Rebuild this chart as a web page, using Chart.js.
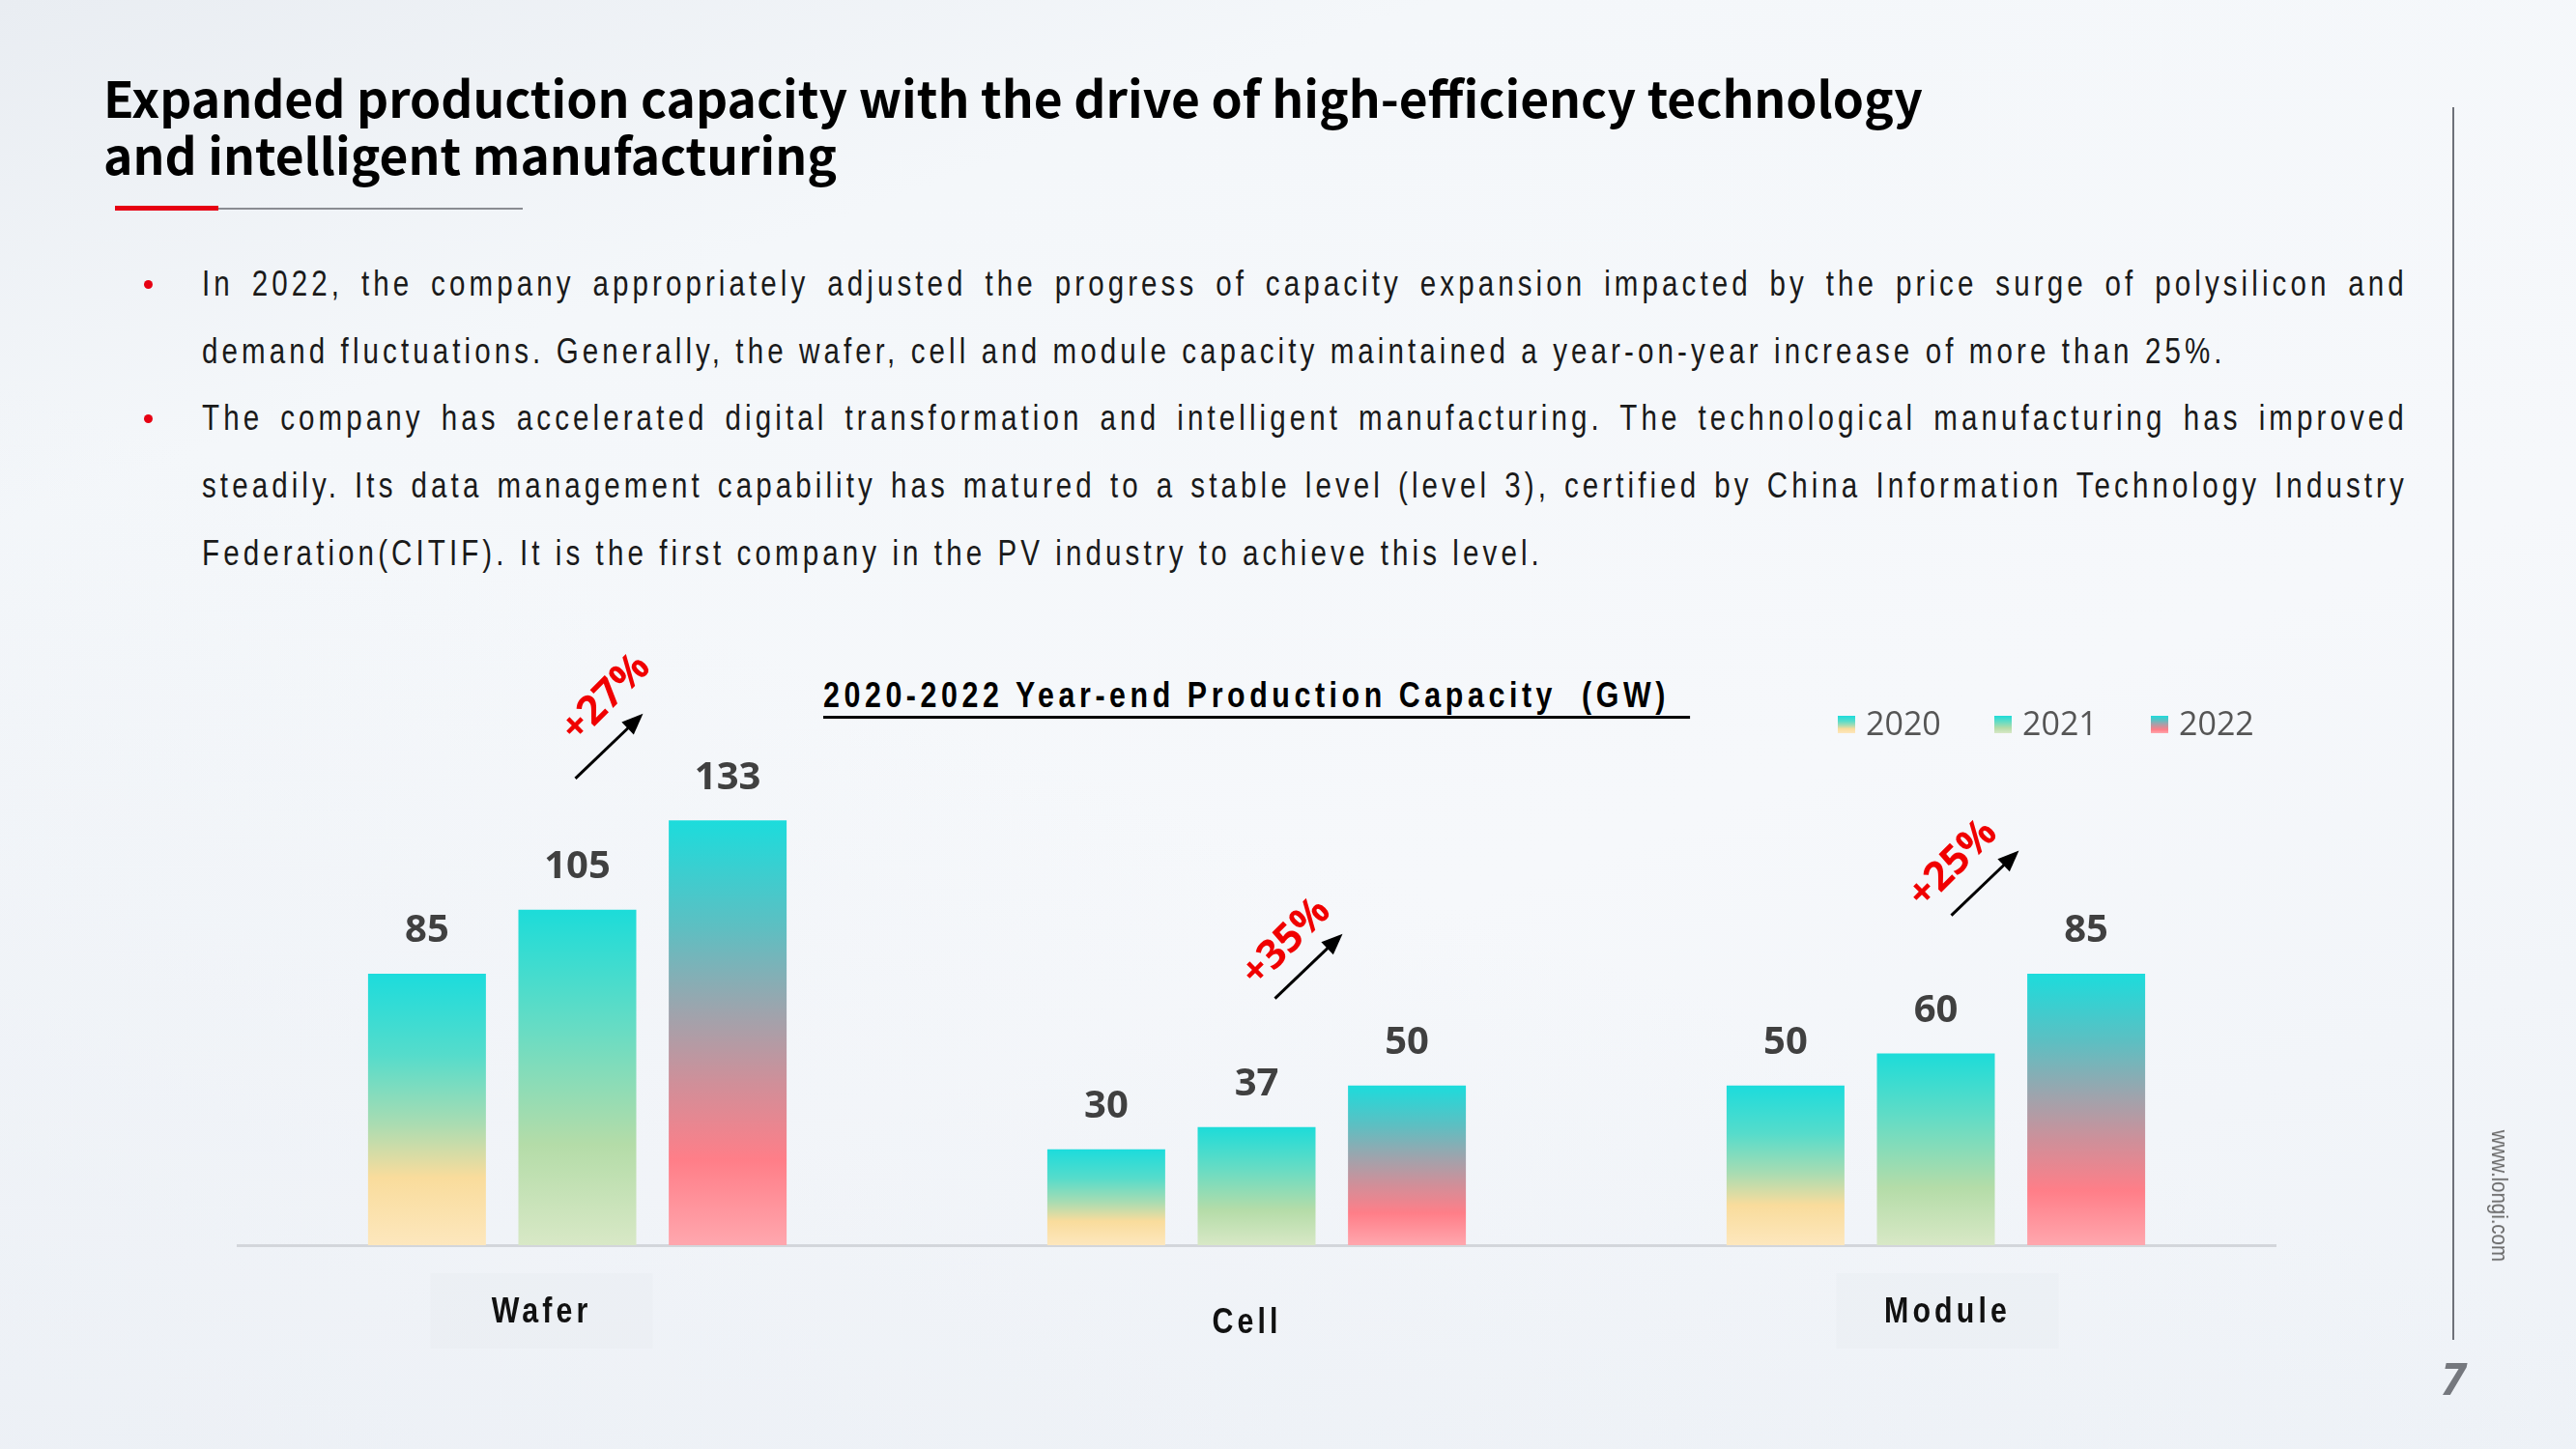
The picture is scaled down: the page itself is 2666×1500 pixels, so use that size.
<!DOCTYPE html>
<html>
<head>
<meta charset="utf-8">
<script src="https://cdn.jsdelivr.net/npm/chart.js@4.4.1/dist/chart.umd.min.js"></script>
<style>
  html, body { margin: 0; padding: 0; }
  body {
    width: 2666px; height: 1500px; overflow: hidden; position: relative;
    background:
      linear-gradient(200deg, rgba(255,255,255,0) 55%, rgba(230,235,242,0.6) 100%),
      linear-gradient(160deg, #e9edf2 0%, #f4f7fa 22%, #f6f8fb 60%, #eef2f7 100%);
    font-family: "Liberation Sans", Arial, sans-serif;
  }
  .title {
    position: absolute; left: 107px; top: 70px;
    font-family: "Noto Sans CJK SC", "Noto Sans", sans-serif; font-weight: 700;
    font-size: 51.5px; line-height: 59px; color: #000;
  }
  .rule-red { position: absolute; left: 119px; top: 213px; width: 107px; height: 5px; background: #e60012; }
  .rule-gray { position: absolute; left: 226px; top: 215px; width: 315px; height: 2px; background: #8a8c92; }
  .bullets { position: absolute; left: 209px; top: 259px; width: 2283px; }
  /* 窄体：Liberation Sans 横向压缩 */
  .bullets .ln {
    width: 2784px; transform: scaleX(0.82); transform-origin: left top;
    font-family: "Liberation Sans", sans-serif;
    font-size: 36px; line-height: 69.7px; height: 69.7px; color: #1a1a1a; letter-spacing: 5px;
    text-align: justify; text-align-last: justify; white-space: nowrap;
  }
  .bullets .ln.last { text-align: left; text-align-last: left; }
  .dot { position: absolute; left: -60px; width: 9px; height: 9px; border-radius: 50%; background: #e60012; }
  .chart-title {
    position: absolute; left: 852px; top: 699px; transform: scaleX(0.82); transform-origin: left top;
    padding-right: 26px; white-space: nowrap;
    font-family: "Liberation Sans", sans-serif; font-weight: 700;
    font-size: 37px; line-height: 42px; letter-spacing: 5.6px; color: #000;
    border-bottom: 3px solid #000;
  }
  #capacityChart { position: absolute; left: 0; top: 0; }
  .side-line { position: absolute; left: 2538px; top: 111px; width: 2px; height: 1276px; background: #6e7179; }
  .site {
    position: absolute; left: 2587px; top: 1238px; transform: translate(-50%, -50%) rotate(90deg) scaleX(0.85);
    font-family: "Liberation Sans", sans-serif; font-size: 24px; color: #666; white-space: nowrap;
  }
  .page-no {
    position: absolute; left: 2539px; top: 1426px; transform: translate(-50%, -50%);
    font-family: "Open Sans", sans-serif; font-weight: 700; font-style: italic; font-size: 46px; color: #75787e;
  }
</style>
</head>
<body>
<div class="title">Expanded production capacity with the drive of high-efficiency technology<br>and intelligent manufacturing</div>
<div class="rule-red"></div><div class="rule-gray"></div>

<div class="bullets">
  <span class="dot" style="top:31px"></span>
  <span class="dot" style="top:170px"></span>
  <div class="ln">In 2022, the company appropriately adjusted the progress of capacity expansion impacted by the price surge of polysilicon and</div>
  <div class="ln last">demand fluctuations. Generally, the wafer, cell and module capacity maintained a year-on-year increase of more than 25%.</div>
  <div class="ln">The company has accelerated digital transformation and intelligent manufacturing. The technological manufacturing has improved</div>
  <div class="ln">steadily. Its data management capability has matured to a stable level (level 3), certified by China Information Technology Industry</div>
  <div class="ln last">Federation(CITIF). It is the first company in the PV industry to achieve this level.</div>
</div>

<div class="chart-title">2020-2022 Year-end Production Capacity&nbsp;&nbsp;(GW)</div>

<canvas id="capacityChart" width="2666" height="1500"></canvas>

<div class="side-line"></div>
<div class="site">www.longi.com</div>
<div class="page-no">7</div>

<script>
// 数据
const categories = ['Wafer', 'Cell', 'Module'];
const seriesNames = ['2020', '2021', '2022'];
const cap2020 = [85, 30, 50];
const cap2021 = [105, 37, 60];
const cap2022 = [133, 50, 85];
const growthLabels = ['+27%', '+35%', '+25%'];
const yMax = 150;

// 渐变色（上 -> 下）
const gradientStops = [
    [[0, '#1cdcdc'], [0.3, '#55dccb'], [0.55, '#a8dcb2'], [0.75, '#f9dc9c'], [1, '#fde7bd']],
    [[0, '#1cdcd9'], [0.35, '#66dcc4'], [0.7, '#b4dca8'], [1, '#d8e8c6']],
    [[0, '#1cdcdc'], [0.25, '#5dbfc2'], [0.45, '#9ea4ad'], [0.62, '#d08f99'], [0.8, '#ff7e88'], [1, '#ffa7ae']]
];

// 类目标签和增长标注的位置微调（相对柱子）
const catLabelShift = [{ dx: -37, dy: 70, box: true }, { dx: -10, dy: 81, box: false }, { dx: 12, dy: 70, box: true }];
const arrowShift = [[-2, -136], [19, -133], [16, -143]];
const annoTextShift = [[32, -83], [12, -58], [2, -53]];

function barGradient(stops) {
    return (context) => {
        const chart = context.chart;
        const yScale = chart.scales.y;
        if (!yScale || typeof context.raw !== 'number') return stops[0][1];
        const top = yScale.getPixelForValue(context.raw);
        const base = yScale.getPixelForValue(0);
        if (!isFinite(top) || !isFinite(base)) return stops[0][1];
        const g = chart.ctx.createLinearGradient(0, top, 0, base);
        stops.forEach(([o, c]) => g.addColorStop(o, c));
        return g;
    };
}

const slideMarks = {
    id: 'slideMarks',
    afterDatasetsDraw(chart) {
        const ctx = chart.ctx;
        const yScale = chart.scales.y;
        const xScale = chart.scales.x;

        // 柱顶数值
        chart.data.datasets.forEach((ds, i) => {
            chart.getDatasetMeta(i).data.forEach((bar, j) => {
                ctx.save();
                ctx.font = 'bold 40px "Open Sans"';
                ctx.fillStyle = '#404040';
                ctx.textAlign = 'center';
                ctx.textBaseline = 'middle';
                ctx.fillText(ds.data[j], bar.x, bar.y - 44);
                ctx.restore();
            });
        });

        // 增长箭头
        const mid = chart.getDatasetMeta(1).data;
        mid.forEach((bar, j) => {
            const sx = bar.x + arrowShift[j][0], sy = bar.y + arrowShift[j][1];
            const ex = sx + 70, ey = sy - 67;
            const ang = Math.atan2(ey - sy, ex - sx);
            ctx.save();
            ctx.strokeStyle = '#000';
            ctx.fillStyle = '#000';
            ctx.lineWidth = 3;
            ctx.beginPath();
            ctx.moveTo(sx, sy);
            ctx.lineTo(ex - 14 * Math.cos(ang), ey - 14 * Math.sin(ang));
            ctx.stroke();
            ctx.beginPath();
            ctx.moveTo(ex, ey);
            ctx.lineTo(ex - 22 * Math.cos(ang) + 9 * Math.sin(ang), ey - 22 * Math.sin(ang) - 9 * Math.cos(ang));
            ctx.lineTo(ex - 22 * Math.cos(ang) - 9 * Math.sin(ang), ey - 22 * Math.sin(ang) + 9 * Math.cos(ang));
            ctx.closePath();
            ctx.fill();

            ctx.translate(sx + annoTextShift[j][0], sy + annoTextShift[j][1]);
            ctx.rotate(-Math.PI / 4);
            ctx.font = 'bold 42px "Open Sans"';
            ctx.fillStyle = '#f00000';
            ctx.textAlign = 'center';
            ctx.textBaseline = 'middle';
            ctx.fillText(growthLabels[j], 0, 0);
            ctx.restore();
        });

        // 类目标签
        const base = yScale.getPixelForValue(0);
        categories.forEach((name, j) => {
            const s = catLabelShift[j];
            const cx = xScale.getPixelForValue(j) + s.dx;
            const cy = base + s.dy;
            ctx.save();
            if (s.box) {
                ctx.fillStyle = 'rgba(222,227,233,0.18)';
                ctx.fillRect(cx - 115, base + 29, 230, 78);
            }
            ctx.translate(cx, cy);
            ctx.scale(0.82, 1);
            ctx.font = 'bold 37px "Liberation Sans"';
            ctx.letterSpacing = '5px';
            ctx.fillStyle = '#111';
            ctx.textAlign = 'center';
            ctx.textBaseline = 'middle';
            ctx.fillText(name, 0, 0);
            ctx.restore();
        });

        // 图例
        chart.data.datasets.forEach((ds, i) => {
            const bx = 1902 + i * 162, by = 741;
            ctx.save();
            const g = ctx.createLinearGradient(0, by, 0, by + 18);
            gradientStops[i].forEach(([o, c]) => g.addColorStop(o, c));
            ctx.fillStyle = g;
            ctx.fillRect(bx, by, 18, 18);
            ctx.font = '34px "Open Sans"';
            ctx.fillStyle = '#555';
            ctx.textAlign = 'left';
            ctx.textBaseline = 'middle';
            ctx.fillText(ds.label, bx + 29, by + 10);
            ctx.restore();
        });
    }
};

new Chart(document.getElementById('capacityChart'), {
    type: 'bar',
    data: {
        labels: categories,
        datasets: [
            { label: seriesNames[0], data: cap2020, backgroundColor: barGradient(gradientStops[0]) },
            { label: seriesNames[1], data: cap2021, backgroundColor: barGradient(gradientStops[1]) },
            { label: seriesNames[2], data: cap2022, backgroundColor: barGradient(gradientStops[2]) }
        ]
    },
    options: {
        responsive: false,
        animation: false,
        devicePixelRatio: 1,
        categoryPercentage: 0.664,
        barPercentage: 0.784,
        layout: { padding: { left: 246, right: 311, top: 793, bottom: 211 } },
        plugins: {
            legend: { display: false },
            tooltip: { enabled: false }
        },
        scales: {
            x: {
                ticks: { display: false },
                grid: { display: false, drawTicks: false },
                border: { display: true, color: '#d3d6db', width: 3 }
            },
            y: {
                display: false,
                min: 0,
                max: yMax
            }
        }
    },
    plugins: [slideMarks]
});
</script>
</body>
</html>
